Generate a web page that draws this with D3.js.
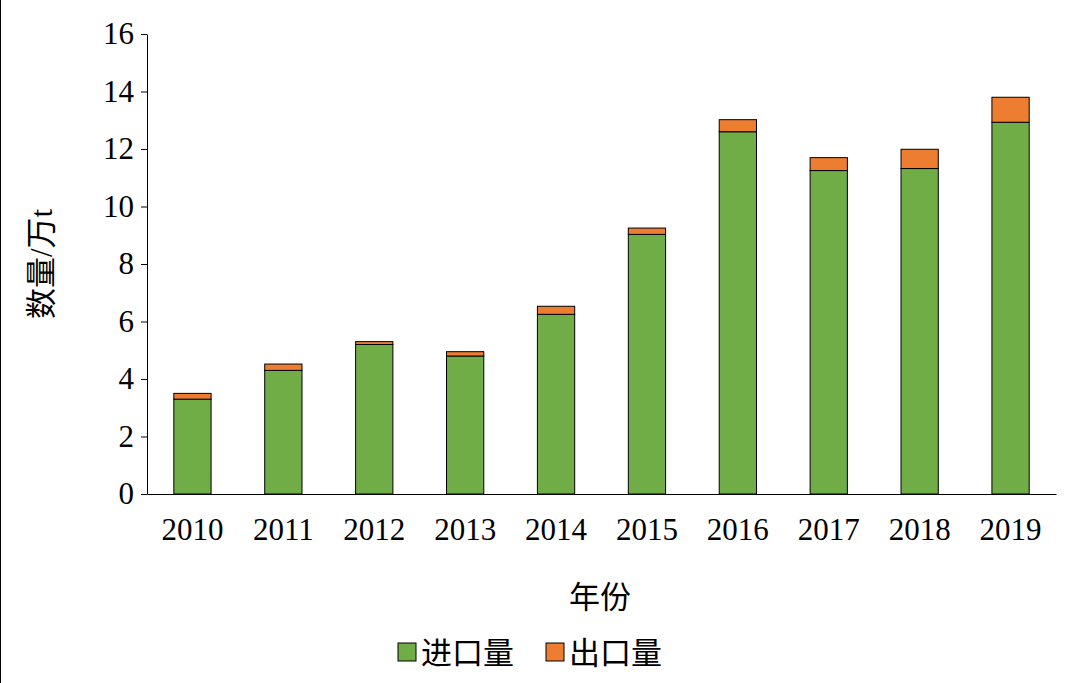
<!DOCTYPE html>
<html><head><meta charset="utf-8">
<script src="https://cdn.jsdelivr.net/npm/d3@7"></script>
<style>body{margin:0;background:#fff}text{font-family:"Liberation Serif","Noto Sans CJK SC",serif}</style>
</head><body>
<svg id="c" width="1080" height="683"></svg>
<script>
const years = ["2010","2011","2012","2013","2014","2015","2016","2017","2018","2019"];
const importVals = [3.3, 4.3, 5.2, 4.8, 6.25, 9.03, 12.6, 11.25, 11.32, 12.93];
const exportVals = [0.2, 0.22, 0.1, 0.15, 0.28, 0.22, 0.42, 0.45, 0.67, 0.87];
const yTicks = [0, 2, 4, 6, 8, 10, 12, 14, 16];
const seriesNames = ["进口量", "出口量"];
const colors = ["#70ad47", "#ed7d31"];

const svg = d3.select("#c");
const m = {l:147, r:1056, t:34, b:494};
const x = d3.scaleBand().domain(years).range([m.l, m.r]).paddingInner(0.59).paddingOuter(0.295);
const y = d3.scaleLinear().domain([0,16]).range([m.b, m.t]);

svg.append("line").attr("x1",0.5).attr("x2",0.5).attr("y1",0).attr("y2",683).attr("stroke","#000");

const stacked = d3.stack().keys([0,1]).value((d,k)=>d[k])(years.map((_,i)=>[importVals[i], exportVals[i]]));
stacked.forEach((s,k)=>{
  svg.append("g").selectAll("rect").data(s).join("rect")
    .attr("x",(d,i)=>x(years[i])).attr("width",x.bandwidth())
    .attr("y",d=>y(d[1])).attr("height",d=>y(d[0])-y(d[1]))
    .attr("fill",colors[k]).attr("stroke","#000").attr("stroke-width",1);
});

const ya = svg.append("g").attr("transform",`translate(${m.l},0)`)
  .call(d3.axisLeft(y).tickValues(yTicks).tickSize(6).tickSizeOuter(0));
ya.selectAll("text").style("font-size","31px").attr("dx",-4);
const xa = svg.append("g").attr("transform",`translate(0,${m.b})`)
  .call(d3.axisBottom(x).tickSize(0).tickSizeOuter(0));
xa.selectAll("text").style("font-size","31px").attr("y",24).attr("dy","0.71em");
svg.selectAll(".domain,.tick line").attr("stroke","#000");
svg.selectAll(".tick text").attr("fill","#000");

svg.append("text").attr("x",600).attr("y",608).attr("text-anchor","middle").style("font-size","31px").text("年份");
svg.append("text").attr("transform","translate(52,264) rotate(-90)").attr("text-anchor","middle").style("font-size","31px").text("数量/万t");

const lg = svg.append("g");
seriesNames.forEach((n,i)=>{
  const lx = [398,546][i];
  lg.append("rect").attr("x",lx).attr("y",643).attr("width",18).attr("height",18).attr("fill",colors[i]).attr("stroke","#000");
  lg.append("text").attr("x",lx+23).attr("y",664).style("font-size","31px").text(n);
});
</script>
</body></html>
